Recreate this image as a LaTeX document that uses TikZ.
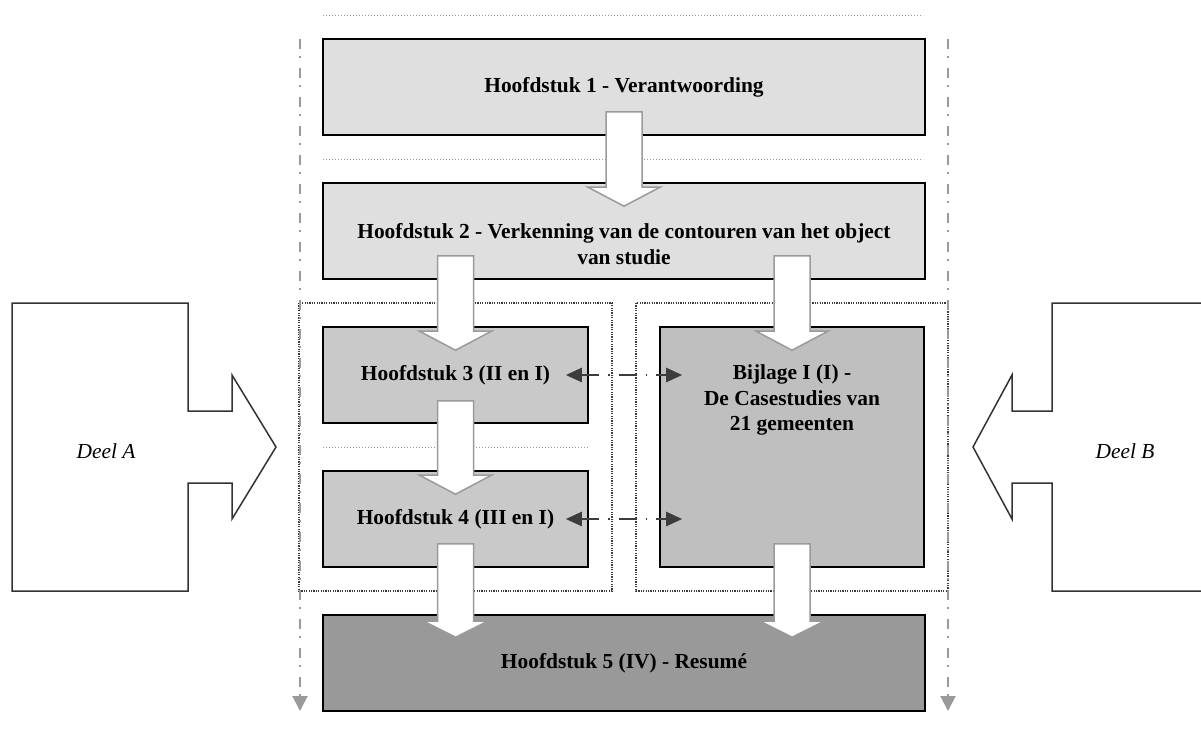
\documentclass[tikz,border=0pt]{standalone}
\usepackage{fontspec}
\setmainfont{Liberation Serif}
\usetikzlibrary{calc,arrows.meta}
\definecolor{lightbox}{HTML}{DFDFDF}
\definecolor{midbox}{HTML}{C9C9C9}
\definecolor{bijbox}{HTML}{BFBFBF}
\definecolor{darkbox}{HTML}{999999}
\definecolor{arrgray}{HTML}{9A9A9A}
\definecolor{dblgray}{HTML}{3C3C3C}
\definecolor{framegray}{HTML}{3A3A3A}
\definecolor{shapegray}{HTML}{333333}
\newcommand\blkarrow[4]{%
  \draw[blockarrow] ($(#1)+(-18,0)$) -- ($(#1)+(18,0)$) -- ($(#2)+(18,-#3)$) -- ($(#2)+(#4,-#3)$) -- (#2) -- ($(#2)+(-#4,-#3)$) -- ($(#2)+(-18,-#3)$) -- cycle;}
\begin{document}
\begin{tikzpicture}[x=1pt,y=-1pt,
  chbox/.style={draw=black, line width=1.6pt, inner sep=0pt, font=\bfseries\fontsize{21.4}{25.5}\selectfont, align=center},
  txt/.style={inner sep=0pt, font=\bfseries\fontsize{21.4}{25.5}\selectfont, align=center},
  itxt/.style={inner sep=0pt, font=\itshape\fontsize{21.4}{25.5}\selectfont},
  blockarrow/.style={draw=arrgray, line width=1.5pt, fill=white, line join=miter},
  sepline/.style={draw=arrgray, line width=1pt, dash pattern=on 1pt off 2pt},
  frameline/.style={draw=framegray, line width=1.2pt, dash pattern=on 1.2pt off 1.2pt},
  flowline/.style={draw=arrgray, line width=2pt, dash pattern=on 10pt off 7pt on 1.5pt off 10.5pt, -{Triangle[width=15pt,length=15pt]}},
  dblline/.style={draw=dblgray, line width=2.4pt, dash pattern=on 18pt off 9pt on 1.5pt off 9pt, {Triangle[width=14pt,length=16pt]}-{Triangle[width=14pt,length=16pt]}},
  deelshape/.style={draw=shapegray, line width=1.5pt, line join=miter}
]
\useasboundingbox (0,0) rectangle (1201,729);

% dotted frames
\draw[frameline] (299,303) rectangle (612,591);
\draw[frameline] (636,303) rectangle (948,591);

% boxes
\node[chbox, fill=lightbox, minimum width=602pt, minimum height=96pt] (b1) at (624,87) {Hoofdstuk 1 - Verantwoording};
\node[chbox, fill=lightbox, minimum width=602pt, minimum height=96pt] (b2) at (624,231) {};
\node[txt] (t2) at ($(b2.center)+(0,13)$) {Hoofdstuk 2 - Verkenning van de contouren van het object\\van studie};
\node[chbox, fill=midbox, minimum width=265pt, minimum height=96pt] (b3) at (455.5,375) {Hoofdstuk 3 (II en I)};
\node[chbox, fill=midbox, minimum width=265pt, minimum height=96pt] (b4) at (455.5,519) {Hoofdstuk 4 (III en I)};
\node[chbox, fill=bijbox, minimum width=264pt, minimum height=240pt] (bij) at (792,447) {};
\node[txt] (tbij) at ($(bij.north)+(0,74)$) {Bijlage I (I) -\\De Casestudies van\\21 gemeenten};
\node[chbox, fill=darkbox, minimum width=602pt, minimum height=96pt] (b5) at (624,663) {Hoofdstuk 5 (IV) - Resum\'e};

% dotted separators
\coordinate (s1a) at (323,15); \coordinate (s1b) at (923,15);
\coordinate (s2a) at (323,159); \coordinate (s2b) at (923,159);
\coordinate (s3a) at (323,447); \coordinate (s3b) at (588,447);
\draw[sepline] (s1a) -- (s1b);
\draw[sepline] (s2a) -- (s2b);
\draw[sepline] (s3a) -- (s3b);

% block arrows
\coordinate (a1s) at ($(b1.south)+(0,-24)$);
\coordinate (a1t) at ($(b2.north)+(0,24)$);
\blkarrow{a1s}{a1t}{19}{36}
\coordinate (a2s) at ($(b2.south -| b3.north)+(0,-24)$);
\coordinate (a2t) at ($(b3.north)+(0,24)$);
\blkarrow{a2s}{a2t}{19}{36}
\coordinate (a3s) at ($(b2.south -| bij.north)+(0,-24)$);
\coordinate (a3t) at ($(bij.north)+(0,24)$);
\blkarrow{a3s}{a3t}{19}{36}
\coordinate (a4s) at ($(b3.south)+(0,-23)$);
\coordinate (a4t) at ($(b4.north)+(0,24)$);
\blkarrow{a4s}{a4t}{19}{36}
\coordinate (a5s) at ($(b4.south)+(0,-24)$);
\coordinate (a5t) at ($(b5.north -| b4.south)+(0,23)$);
\blkarrow{a5s}{a5t}{16}{32}
\coordinate (a6s) at ($(bij.south)+(0,-24)$);
\coordinate (a6t) at ($(b5.north -| bij.south)+(0,23)$);
\blkarrow{a6s}{a6t}{16}{32}

% double dash-dot arrows
\draw[dblline] ([xshift=-23pt]b3.east) -- ([xshift=23pt]b3.east -| bij.west);
\draw[dblline] ([xshift=-23pt]b4.east) -- ([xshift=23pt]b4.east -| bij.west);

% vertical flow lines
\coordinate (v1a) at (300,39); \coordinate (v1b) at (300,711);
\coordinate (v2a) at (948,39); \coordinate (v2b) at (948,711);
\draw[flowline] (v1a) -- (v1b);
\draw[flowline] (v2a) -- (v2b);

% Deel A / Deel B shapes
\draw[deelshape] (12,303) -- (188,303) -- (188,411) -- (232,411) -- (232,375) -- (276,447) -- (232,519) -- (232,483) -- (188,483) -- (188,591) -- (12,591) -- cycle;
\node[itxt] (da) at (106,451) {Deel A};
\draw[deelshape] (1202,303) -- (1052,303) -- (1052,411) -- (1012,411) -- (1012,375) -- (973,447) -- (1012,519) -- (1012,483) -- (1052,483) -- (1052,591) -- (1202,591);
\node[itxt] (dbn) at (1125,451) {Deel B};
\end{tikzpicture}
\end{document}
